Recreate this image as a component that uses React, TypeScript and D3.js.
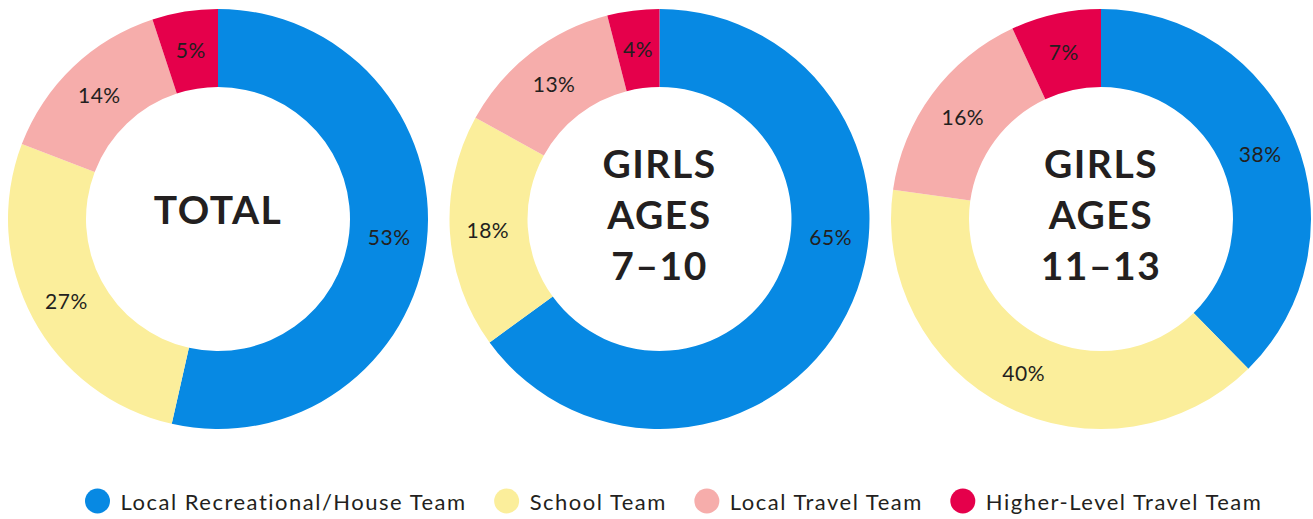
import React, { useLayoutEffect, useRef, useState } from "react";
import * as d3 from "d3";

const categories = [
  "Local Recreational/House Team",
  "School Team",
  "Local Travel Team",
  "Higher-Level Travel Team",
];
const colors = ["#0789E3", "#FBEE9B", "#F6ADAB", "#E5004B"];

const chartTitles = [["TOTAL"], ["GIRLS", "AGES", "7–10"], ["GIRLS", "AGES", "11–13"]];
const totalValues = [53, 27, 14, 5];
const girls710Values = [65, 18, 13, 4];
const girls1113Values = [38, 40, 16, 7];
const seriesValues = [totalValues, girls710Values, girls1113Values];

const W = 1313;
const H = 519;
const FONT = "Lato, 'Open Sans', sans-serif";
const TEXT = "#231F20";

export default function App() {
  const outerR = 210;
  const innerR = 132;
  const labelR = 172;
  const cy = 219;
  const x = d3.scalePoint<number>().domain([0, 1, 2]).range([218, 1101]);
  const pie = d3.pie<number>().sort(null).value((d) => d);
  const arc = d3.arc<d3.PieArcDatum<number>>().innerRadius(innerR).outerRadius(outerR);

  const labelPos = (a: d3.PieArcDatum<number>): [number, number] => {
    const span = a.endAngle - a.startAngle;
    const ang = span > Math.PI ? Math.PI / 2 + 0.1 : (a.startAngle + a.endAngle) / 2;
    return [labelR * Math.sin(ang), -labelR * Math.cos(ang)];
  };

  const legendRefs = useRef<(SVGTextElement | null)[]>([]);
  const [widths, setWidths] = useState<number[]>(categories.map(() => 200));
  useLayoutEffect(() => {
    const w = legendRefs.current.map((el) => (el ? el.getComputedTextLength() : 200));
    setWidths(w);
  }, []);

  const legendStart = 97.5;
  const legendY = 501;
  const circleToText = 23;
  const textToNext = 40;
  const legendX: number[] = [];
  let cur = legendStart;
  categories.forEach((_, i) => {
    legendX.push(cur);
    cur += circleToText + widths[i] + textToNext;
  });

  const lineH = 51;
  const capH = 28;

  return (
    <svg
      width={W}
      height={H}
      style={{ position: "absolute", left: 0, top: 0, background: "#fff" }}
      fontFamily={FONT}
    >
      {seriesValues.map((vals, ci) => {
        const cx = x(ci)!;
        const arcs = pie(vals);
        const lines = chartTitles[ci];
        const shift = lines.length === 1 ? 9 : 4;
        return (
          <g key={ci} transform={`translate(${cx},${cy})`}>
            {arcs.map((a, i) => (
              <path key={i} d={arc(a)!} fill={colors[i]} />
            ))}
            {arcs.map((a, i) => {
              const [lx, ly] = labelPos(a);
              return (
                <text
                  key={"l" + i}
                  x={lx}
                  y={ly}
                  textAnchor="middle"
                  dominantBaseline="central"
                  fontSize={21}
                  letterSpacing={0.5}
                  fill={TEXT}
                >
                  {vals[i]}%
                </text>
              );
            })}
            {lines.map((t, li) => (
              <text
                key={"t" + li}
                x={0}
                y={capH / 2 + (li - (lines.length - 1) / 2) * lineH - shift}
                textAnchor="middle"
                fontSize={39}
                fontWeight={700}
                letterSpacing={1.5}
                fill={TEXT}
              >
                {t}
              </text>
            ))}
          </g>
        );
      })}
      {categories.map((c, i) => (
        <g key={c} transform={`translate(${legendX[i]},${legendY})`}>
          <circle r={12.5} fill={colors[i]} />
          <text
            ref={(el) => {
              legendRefs.current[i] = el;
            }}
            x={circleToText}
            y={0}
            dominantBaseline="central"
            fontSize={22}
            letterSpacing={1.5}
            fill={TEXT}
          >
            {c}
          </text>
        </g>
      ))}
    </svg>
  );
}
